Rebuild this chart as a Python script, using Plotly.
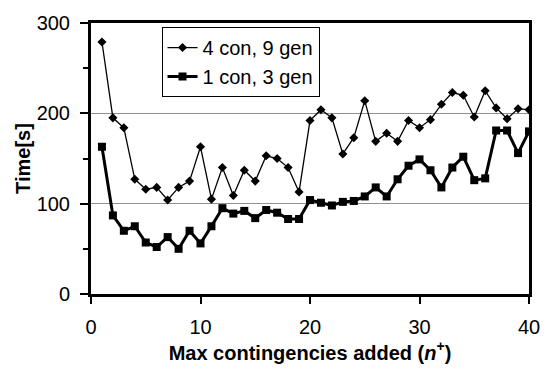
import plotly.graph_objects as go

x_vals = list(range(1, 41))
con4_gen9 = [279, 195, 184, 127, 116, 118, 104, 118, 125, 163,
             105, 140, 109, 137, 125, 153, 150, 140, 113, 192,
             204, 195, 155, 173, 214, 169, 178, 169, 192, 184,
             193, 210, 223, 220, 196, 225, 206, 194, 205, 204]
con1_gen3 = [163, 87, 70, 75, 57, 52, 63, 50, 70, 56,
             75, 95, 89, 92, 84, 93, 90, 83, 83, 104,
             101, 98, 102, 103, 108, 118, 108, 127, 142, 149,
             137, 118, 140, 152, 126, 128, 181, 181, 156, 180]
x_ticks = [0, 10, 20, 30, 40]
y_ticks = [0, 100, 200, 300]

FONT = "Arial, Liberation Sans, sans-serif"

fig = go.Figure()
fig.add_trace(go.Scatter(
    x=x_vals, y=con4_gen9, name="4 con, 9 gen", mode="lines+markers",
    line=dict(color="black", width=1.3),
    marker=dict(symbol="diamond", size=7, color="black"),
))
fig.add_trace(go.Scatter(
    x=x_vals, y=con1_gen3, name="1 con, 3 gen", mode="lines+markers",
    line=dict(color="black", width=3),
    marker=dict(symbol="square", size=8, color="black"),
))

fig.update_layout(
    width=552, height=373,
    margin=dict(l=91, r=21, t=14, b=78),
    paper_bgcolor="white", plot_bgcolor="white",
    font=dict(family=FONT, size=20, color="black"),
    showlegend=True,
    legend=dict(
        x=0.161, y=0.985, xanchor="left", yanchor="top",
        bordercolor="black", borderwidth=1, bgcolor="white",
        font=dict(family=FONT, size=20, color="black"),
        tracegroupgap=0, itemwidth=30,
    ),
)
fig.update_xaxes(
    range=[0, 40], tickvals=x_ticks, ticks="outside", ticklen=7, tickwidth=2,
    tickcolor="black", showline=True, linecolor="black", linewidth=3,
    mirror=True, showgrid=False, zeroline=False,
    tickfont=dict(family=FONT, size=20), ticklabelstandoff=6,
    title=dict(text="<b>Max contingencies added (<i>n</i><sup>+</sup>)</b>",
               font=dict(family=FONT, size=20), standoff=9),
)
fig.update_yaxes(
    range=[0, 300], tickvals=y_ticks, ticks="outside", ticklen=8, tickwidth=2,
    tickcolor="black", showline=True, linecolor="black", linewidth=3,
    mirror=True, showgrid=True, gridcolor="#909090", gridwidth=1,
    zeroline=False,
    minor=dict(tickvals=[50, 150, 250], ticks="outside", ticklen=5,
               tickwidth=2, tickcolor="black", showgrid=False),
    tickfont=dict(family=FONT, size=20), ticklabelstandoff=6,
    title=dict(text="<b>Time[s]</b>", font=dict(family=FONT, size=20),
               standoff=1),
)

fig.write_html("out.html")
